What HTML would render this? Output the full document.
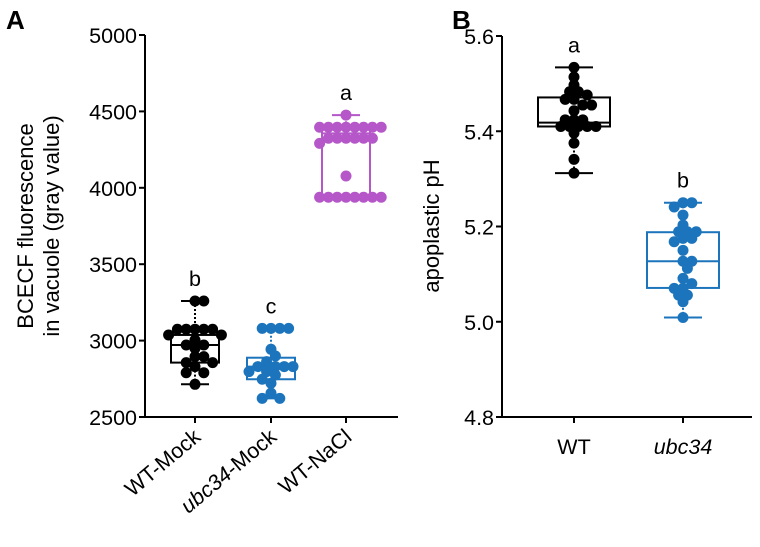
<!DOCTYPE html>
<html><head><meta charset="utf-8"><style>
html,body{margin:0;padding:0;background:#fff}
svg{display:block}
text{font-family:"Liberation Sans",Arial,sans-serif;fill:#000}
</style></head><body>
<svg id="chart" width="760" height="547" viewBox="0 0 760 547" xmlns="http://www.w3.org/2000/svg">
<text x="6" y="29" font-size="26" font-weight="bold">A</text>
<text x="452" y="29" font-size="26" font-weight="bold">B</text>
<text transform="translate(33,226) rotate(-90)" text-anchor="middle" font-size="22">BCECF fluorescence</text>
<text transform="translate(59,226) rotate(-90)" text-anchor="middle" font-size="22">in vacuole (gray value)</text>
<text transform="translate(439,226) rotate(-90)" text-anchor="middle" font-size="22">apoplastic pH</text>
<g id="ga"></g><g id="gb"></g>
</svg>
<script>
// Panel A data
const catsA = ["WT-Mock", "ubc34-Mock", "WT-NaCl"];
const italicA = [false, true, false];
const letterA = ["b", "c", "a"];
const ticksA = [2500, 3000, 3500, 4000, 4500, 5000];
const wtMock = [3259,3259,3074,3074,3074,3074,3074,3037,3037,3004,2971,2971,2949,2895,2895,2856,2856,2830,2790,2790,2714];
const ubcMock = [3080,3080,3080,3080,2943,2899,2862,2830,2830,2830,2830,2797,2797,2775,2747,2721,2656,2622,2622];
const wtNaCl = [4476,4396,4396,4396,4396,4396,4396,4396,4396,4324,4324,4324,4324,4324,4324,4291,4077,3938,3938,3938,3938,3938,3938,3938,3938];
const boxA = [[2714,2856,2971,3037,3259],[2622,2747,2830,2888,3080],[3938,3938,4356,4396,4476]];
// Panel B data
const catsB = ["WT", "ubc34"];
const italicB = [false, true];
const letterB = ["a", "b"];
const ticksB = [4.8, 5.0, 5.2, 5.4, 5.6];
const wtPH = [5.534,5.514,5.497,5.483,5.483,5.476,5.467,5.467,5.455,5.455,5.443,5.424,5.424,5.424,5.41,5.41,5.41,5.41,5.41,5.396,5.375,5.341,5.312];
const ubcPH = [5.250,5.250,5.241,5.224,5.203,5.189,5.189,5.189,5.175,5.175,5.168,5.150,5.127,5.127,5.112,5.091,5.080,5.070,5.070,5.056,5.056,5.042,5.009];
const boxB = [[5.312,5.41,5.418,5.471,5.534],[5.009,5.071,5.127,5.188,5.250]];

const NS = "http://www.w3.org/2000/svg";
function mk(p, tag, attrs){const e=document.createElementNS(NS,tag);for(const k in attrs)e.setAttribute(k,attrs[k]);p.appendChild(e);return e;}

function panel(g, o){
  const y = v => o.y0 + (v - o.vmin)/(o.vmax - o.vmin)*(o.y1 - o.y0);
  const x = i => o.xs[i];
  let ax = mk(g,'line',{x1:o.ax,y1:o.y1,x2:o.ax,y2:o.y0,stroke:'#000','stroke-width':2});
  
  
  let bx = mk(g,'line',{x1:o.ax,y1:o.y0,x2:o.axEnd,y2:o.y0,stroke:'#000','stroke-width':2});
  
  
  o.ticks.forEach(t=>{
    const tl = mk(g,'line',{x1:o.ax-6,y1:y(t),x2:o.ax,y2:y(t),stroke:'#000','stroke-width':2});
    
    
    const tt = mk(g,'text',{x:o.ax-8,y:y(t)+8,'text-anchor':'end','font-size':21.5});
    tt.textContent = o.fmt(t);
    
    
  });
  o.cats.forEach((c,i)=>{
    const tk = mk(g,'line',{x1:x(i),y1:o.y0,x2:x(i),y2:o.y0+6,stroke:'#000','stroke-width':2});
    
    
    let lab;
    if(o.rot){
      lab = mk(g,'text',{transform:`translate(${x(i)+7},${o.y0+22}) rotate(-40)`,'text-anchor':'end','font-size':21.5});
    } else {
      lab = mk(g,'text',{x:x(i),y:o.y0+37,'text-anchor':'middle','font-size':21.5});
    }
    if(o.italic[i] && c.indexOf('-')>0){
      const s1 = mk(lab,'tspan',{'font-style':'italic'}); s1.textContent = c.split('-')[0];
      const s2 = mk(lab,'tspan',{}); s2.textContent = '-'+c.split('-').slice(1).join('-');
    } else {
      lab.textContent = c;
      if(o.italic[i]) lab.setAttribute('font-style','italic');
    }
    
    
    const col = o.colors[i], b = o.boxes[i];
    const rect = mk(g,'rect',{x:x(i)-o.bw,y:y(b[3]),width:2*o.bw,height:Math.max(0,y(b[1])-y(b[3])),fill:'none',stroke:col,'stroke-width':2});
    
    
    const med = mk(g,'line',{x1:x(i)-o.bw,y1:y(b[2]),x2:x(i)+o.bw,y2:y(b[2]),stroke:col,'stroke-width':2});
    
    
    [[b[3],b[4]],[b[1],b[0]]].forEach(pr=>{
      const w = mk(g,'line',{x1:x(i),y1:y(pr[0]),x2:x(i),y2:y(pr[1]),stroke:col,'stroke-width':2,'stroke-dasharray':'2,2'});
      
      
      const cp = mk(g,'line',{x1:x(i)-o.cw,y1:y(pr[1]),x2:x(i)+o.cw,y2:y(pr[1]),stroke:col,'stroke-width':2});
      
      
    });
    const r = 5.5, placed = [];
    const sorted = o.series[i].slice().sort((a,b)=>b-a);
    sorted.forEach(v=>{
      const py = y(v); let dx = 0;
      for(let k=0;k<60;k++){
        const cand = (k%2? 1:-1)*Math.ceil(k/2)*r*0.8;
        const ok = placed.every(p=>Math.hypot(p[0]-cand,p[1]-py) >= r*1.45);
        if(ok){dx=cand;break;}
      }
      placed.push([dx,py]);
      const c = mk(g,'circle',{cx:x(i)+dx,cy:py,r:r,fill:col});
      
      
    });
    const lt = mk(g,'text',{x:x(i),y:y(b[4])-15,'text-anchor':'middle','font-size':21.5});
    lt.textContent = o.letters[i];
    
    
  });
}
panel(document.getElementById('ga'),{id:'a',cats:catsA,italic:italicA,letters:letterA,ticks:ticksA,series:[wtMock,ubcMock,wtNaCl],boxes:boxA,
  colors:['#000','#1c75bc','#b556c9'],vmin:2500,vmax:5000,y0:417,y1:35,ax:145,axEnd:398,xs:[195,271,346],bw:24,cw:14,rot:true,fmt:t=>String(t)});
panel(document.getElementById('gb'),{id:'b',cats:catsB,italic:italicB,letters:letterB,ticks:ticksB,series:[wtPH,ubcPH],boxes:boxB,
  colors:['#000','#1c75bc'],vmin:4.8,vmax:5.6,y0:417,y1:36,ax:502,axEnd:752,xs:[574,683],bw:36,cw:19,rot:false,fmt:t=>t.toFixed(1)});
</script>
</body></html>
